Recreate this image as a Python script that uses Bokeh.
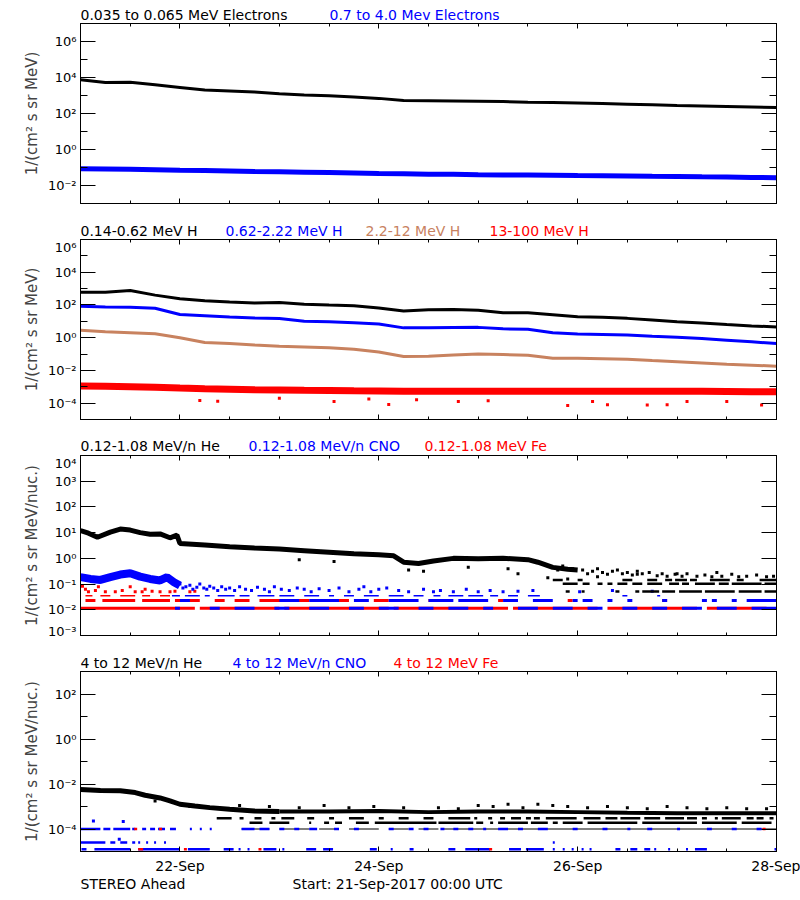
from bokeh.plotting import figure
from bokeh.models import Range1d, LogAxis, LinearAxis, FixedTicker, CustomJSTickFormatter
from bokeh.layouts import column
from bokeh.core.properties import value
from bokeh.embed import file_html
from bokeh.resources import INLINE

FONT = "DejaVu Sans"
BLACK = "#000000"
BLUE = "#0000ff"
RED = "#ff0000"
BROWN = "#c8825f"

# ---------------- x axis (days since 21-Sep-2017 00:00 UTC) ----------------
x_tick_days = [1, 3, 5, 7]
x_tick_labels = ["22-Sep", "24-Sep", "26-Sep", "28-Sep"]
x_minor_days = [0.5, 1.5, 2, 2.5, 3.5, 4, 4.5, 5.5, 6, 6.5]
days_q = [0.0, 0.25, 0.5, 0.75, 1.0, 1.25, 1.5, 1.75, 2.0, 2.25, 2.5, 2.75, 3.0, 3.25,
          3.5, 3.75, 4.0, 4.25, 4.5, 4.75, 5.0, 5.25, 5.5, 5.75, 6.0, 6.25, 6.5, 6.75, 7.0]

# ---------------- panel 1: electrons (log10 values) ----------------
e_low_log = [3.87, 3.72, 3.73, 3.60, 3.45, 3.30, 3.25, 3.20, 3.10, 3.03, 2.98, 2.91, 2.84, 2.72,
             2.71, 2.70, 2.68, 2.66, 2.63, 2.61, 2.58, 2.55, 2.52, 2.49, 2.45, 2.42, 2.39, 2.36, 2.33]
e_high_log = [-1.07, -1.08, -1.10, -1.12, -1.15, -1.17, -1.19, -1.22, -1.24, -1.26, -1.28, -1.30,
              -1.33, -1.35, -1.37, -1.38, -1.40, -1.41, -1.42, -1.43, -1.45, -1.46, -1.47, -1.49,
              -1.50, -1.52, -1.53, -1.55, -1.57]

# ---------------- panel 2: protons (log10 values) ----------------
h1_log = [2.78, 2.78, 2.88, 2.60, 2.38, 2.26, 2.18, 2.12, 2.15, 2.04, 1.99, 1.95, 1.82, 1.63,
          1.70, 1.72, 1.68, 1.52, 1.52, 1.40, 1.28, 1.25, 1.18, 1.08, 0.97, 0.90, 0.80, 0.72, 0.66]
h2_log = [1.92, 1.88, 1.86, 1.80, 1.42, 1.34, 1.26, 1.21, 1.17, 1.00, 0.97, 0.92, 0.84, 0.60,
          0.60, 0.62, 0.63, 0.54, 0.52, 0.30, 0.22, 0.19, 0.16, 0.08, 0.02, -0.05, -0.15, -0.25, -0.36]
h3_log = [0.45, 0.36, 0.30, 0.24, 0.00, -0.30, -0.35, -0.44, -0.52, -0.57, -0.62, -0.70, -0.88,
          -1.15, -1.14, -1.06, -0.99, -1.03, -1.07, -1.25, -1.25, -1.28, -1.32, -1.40, -1.47,
          -1.54, -1.62, -1.68, -1.74]
h4_log = [-2.95, -2.97, -3.00, -3.03, -3.08, -3.12, -3.15, -3.18, -3.20, -3.22, -3.23, -3.25,
          -3.26, -3.27, -3.27, -3.28, -3.27, -3.27, -3.28, -3.28, -3.28, -3.28, -3.27, -3.27,
          -3.28, -3.28, -3.29, -3.30, -3.30]
h4_out_days = [1.2, 1.38, 2.0, 2.55, 2.9, 3.1, 3.38, 3.8, 4.1, 4.9, 5.15, 5.3, 5.7, 5.9,
               6.1, 6.5, 6.85]
h4_out_log = [-3.84, -3.89, -3.7, -3.9, -3.75, -4.09, -3.8, -3.9, -3.85, -4.15, -3.9, -4.1,
              -4.12, -4.1, -3.9, -3.9, -4.12]

# ---------------- panel 3: 0.12-1.08 MeV/n ions (log10 values) ----------------
he_lo_days = [0.0, 0.08, 0.17, 0.3, 0.4, 0.5, 0.6, 0.7, 0.8, 0.9, 0.97, 1.0, 1.25, 1.5, 1.75,
              2.0, 2.25, 2.5, 2.75, 3.0, 3.15, 3.25, 3.4, 3.55, 3.75, 4.0, 4.25, 4.5, 4.6,
              4.75, 4.9, 5.0]
he_lo_log = [1.08, 0.98, 0.82, 1.02, 1.14, 1.10, 1.00, 0.94, 0.95, 0.80, 0.90, 0.58, 0.52,
             0.45, 0.40, 0.36, 0.30, 0.24, 0.18, 0.14, 0.10, -0.15, -0.20, -0.10, 0.00, -0.02,
             0.00, -0.05, -0.15, -0.35, -0.42, -0.45]
he_lo_pts_days = [2.2, 2.55, 3.3, 3.45, 3.9, 4.3, 4.4, 4.8, 4.85, 4.95, 5.05, 5.1, 5.15, 5.2,
                  5.25, 5.3, 5.35, 5.4, 5.45, 5.5, 5.55, 5.6, 5.65, 5.72, 5.8, 5.85, 5.9, 5.98,
                  6.05, 6.1, 6.2, 6.28, 6.35, 6.45, 6.55, 6.62, 6.7, 6.8, 6.9, 6.97, 4.7, 4.9,
                  5.2, 5.6, 6.0, 6.4]
he_lo_pts_log = [-0.05, -0.12, -0.45, -0.5, -0.35, -0.4, -0.6, -0.45, -0.3, -0.4, -0.45, -0.6,
                 -0.5, -0.4, -0.55, -0.62, -0.5, -0.45, -0.6, -0.55, -0.65, -0.5, -0.6, -0.55,
                 -0.68, -0.6, -0.7, -0.62, -0.7, -0.6, -0.7, -0.65, -0.72, -0.7, -0.62, -0.72,
                 -0.7, -0.65, -0.72, -0.7, -0.75, -0.8, -0.72, -0.62, -0.6, -0.55]
he_lo_lvl_a = -0.84
he_lo_runs_a = [(4.75, 4.85), (5.0, 5.05), (5.45, 5.55), (5.7, 5.8), (5.88, 5.95), (5.98, 6.1),
                (6.13, 6.2), (6.33, 6.53), (6.6, 6.67), (6.83, 7.0)]
he_lo_lvl_b = -0.99
he_lo_runs_b = [(4.85, 5.0), (5.05, 5.12), (5.2, 5.25), (5.3, 5.35), (5.4, 5.5), (5.55, 5.65),
                (5.7, 5.85), (5.92, 6.02), (6.05, 6.12), (6.18, 6.38), (6.42, 6.52), (6.55, 6.85),
                (6.88, 7.0)]
he_lo_lvl_c = -1.29
he_lo_runs_c = [(4.88, 4.92), (5.04, 5.07), (5.38, 5.42), (5.58, 5.62), (5.65, 5.82),
                (5.85, 5.98), (6.02, 6.25), (6.28, 6.58), (6.62, 6.85), (6.88, 7.0)]

cno_lo_days = [0.0, 0.1, 0.2, 0.3, 0.4, 0.5, 0.6, 0.7, 0.8, 0.87, 0.94, 1.0]
cno_lo_log = [-0.73, -0.80, -0.84, -0.73, -0.63, -0.58, -0.71, -0.80, -0.86, -0.73, -0.93, -1.06]
cno_lo_pts_days = [1.0, 1.03, 1.06, 1.1, 1.13, 1.17, 1.2, 1.24, 1.27, 1.3, 1.34, 1.38, 1.42,
                   1.46, 1.5, 1.55, 1.6, 1.66, 1.72, 1.78, 1.85, 1.9, 1.95, 2.02, 2.1, 2.18,
                   2.25, 2.32, 2.4, 2.5, 2.6, 2.7, 2.8, 2.85, 2.92, 3.0, 3.08, 3.2, 3.3, 3.45,
                   3.55, 3.62, 3.75, 3.88, 4.0, 4.12, 4.25, 4.4, 4.55, 5.02, 5.35, 5.75]
cno_lo_pts_log = [-1.0, -1.15, -1.1, -1.05, -1.2, -1.12, -1.0, -1.15, -1.2, -1.08, -1.15, -1.25,
                  -1.1, -1.2, -1.15, -1.25, -1.1, -1.2, -1.25, -1.12, -1.2, -1.3, -1.1, -1.2,
                  -1.25, -1.15, -1.2, -1.3, -1.18, -1.25, -1.15, -1.3, -1.2, -1.1, -1.3, -1.2,
                  -1.15, -1.25, -1.3, -1.2, -1.3, -1.25, -1.3, -1.2, -1.3, -1.25, -1.3, -1.28,
                  -1.25, -1.3, -1.25, -1.28]
lvl1 = -1.94
lvl2 = -1.64
lvl3 = -1.45
fe_lo_runs_1 = [(0.0, 1.15), (1.2, 2.0), (2.05, 3.1), (3.15, 4.3), (4.35, 5.2), (5.3, 6.2),
                (6.3, 6.9)]
cno_lo_runs_1 = [(0.95, 1.0), (1.3, 1.4), (1.55, 1.75), (1.95, 2.1), (2.3, 2.5), (2.7, 2.85),
                 (3.0, 3.2), (3.4, 3.55), (3.7, 3.9), (4.05, 4.15), (4.4, 4.6), (4.75, 4.95),
                 (5.1, 5.25), (5.45, 5.6), (5.75, 5.9), (6.05, 6.25), (6.4, 6.6), (6.75, 7.0)]
fe_lo_runs_2 = [(0.05, 0.15), (0.22, 0.55), (0.62, 0.9), (0.95, 1.2), (1.35, 1.45), (1.55, 1.7),
                (1.8, 2.3), (2.35, 2.5), (2.6, 2.7), (2.95, 3.1), (3.3, 3.35), (3.5, 3.6),
                (4.2, 4.25), (4.9, 4.95), (5.85, 5.9)]
cno_lo_runs_2 = [(1.0, 1.1), (2.0, 2.2), (2.3, 2.6), (2.75, 2.9), (3.1, 3.4), (3.5, 3.75),
                 (3.8, 4.1), (4.25, 4.4), (4.55, 4.75), (4.95, 5.0), (5.05, 5.15), (5.3, 5.35),
                 (5.5, 5.55), (5.85, 5.9), (6.25, 6.3), (6.35, 6.4), (6.55, 6.6), (6.7, 7.0)]
cno_lo_runs_3 = [(0.92, 1.0), (1.05, 1.2), (1.25, 1.3), (1.38, 1.55), (1.6, 1.7), (1.78, 1.95),
                 (2.0, 2.15), (2.25, 2.4), (2.5, 2.55), (2.65, 2.75), (2.85, 3.0), (3.1, 3.25),
                 (3.35, 3.45), (3.55, 3.62), (3.7, 3.85), (3.9, 4.05), (4.12, 4.2), (4.3, 4.4),
                 (4.5, 4.62), (5.45, 5.5), (5.8, 5.83)]
fe_lo_runs_3 = [(0.05, 0.12), (0.2, 0.3), (0.4, 0.55), (0.62, 0.7), (0.8, 0.9)]
fe_lo_pts_days = [0.02, 0.05, 0.08, 0.15, 0.18, 0.25, 0.35, 0.42, 0.5, 0.55, 0.62, 0.65, 0.72,
                  0.8, 0.9, 0.95, 1.1, 1.15]
fe_lo_pts_log = [-1.08, -1.2, -1.3, -1.25, -1.1, -1.3, -1.3, -1.25, -1.1, -1.3, -1.3, -1.2,
                 -1.28, -1.3, -1.3, -1.28, -1.3, -1.28]

# ---------------- panel 4: 4-12 MeV/n ions (log10 values) ----------------
he_hi_days = [0.0, 0.2, 0.4, 0.55, 0.65, 0.8, 0.9, 1.0, 1.15, 1.3, 1.5, 1.75, 2.0]
he_hi_log = [-2.24, -2.29, -2.30, -2.38, -2.50, -2.62, -2.75, -2.90, -2.98, -3.05, -3.12,
             -3.20, -3.22]
he_hi_late_days = [2.0, 2.5, 3.0, 3.5, 4.0, 4.5, 5.0, 5.5, 6.0, 6.5, 7.0]
he_hi_late_log = [-3.22, -3.22, -3.20, -3.25, -3.22, -3.22, -3.25, -3.28, -3.30, -3.30, -3.30]
he_hi_pts_days = [0.75, 1.1, 1.6, 1.9, 2.2, 2.45, 2.7, 2.95, 3.25, 3.6, 3.8, 4.0, 4.15, 4.3,
                  4.45, 4.6, 4.75, 4.9, 5.1, 5.3, 5.5, 5.7, 5.9, 6.1, 6.3, 6.5, 6.7, 6.9]
he_hi_pts_log = [-2.75, -3.0, -2.95, -3.0, -3.05, -2.95, -3.05, -3.0, -3.05, -3.05, -3.1,
                 -2.95, -3.0, -2.9, -3.05, -2.9, -2.95, -3.0, -3.05, -3.0, -3.05, -3.1, -3.0,
                 -3.05, -3.1, -3.05, -3.1, -3.1]
he_hi_lvl_a = -3.52
he_hi_runs_a = [(1.37, 1.52), (1.6, 1.64), (1.75, 1.82), (1.92, 1.96), (2.02, 2.15), (2.28, 2.35),
                (2.5, 2.55), (2.7, 2.85), (3.0, 3.05), (3.2, 3.3), (3.45, 3.55), (3.7, 3.92),
                (3.96, 3.99), (4.1, 4.14), (4.22, 4.27), (4.33, 4.43), (4.48, 4.53), (4.56, 4.62),
                (4.68, 4.99), (5.06, 5.23), (5.28, 5.4), (5.43, 5.63), (5.67, 5.83), (5.88, 6.07),
                (6.1, 6.2), (6.25, 6.3), (6.38, 6.41), (6.45, 6.64), (6.7, 6.77), (6.8, 6.87),
                (6.93, 6.97)]
he_hi_lvl_b = -3.72
he_hi_runs_b = [(1.7, 1.83), (1.9, 2.1), (2.3, 2.32), (2.45, 2.5), (2.56, 2.63), (2.77, 2.9),
                (2.96, 3.58), (3.6, 3.95), (3.98, 4.05), (4.12, 4.15), (4.2, 4.5), (4.53, 4.7),
                (4.75, 4.8), (4.85, 5.05), (5.1, 5.6), (5.65, 6.2), (6.25, 6.6), (6.65, 6.95)]
hi_lvl1 = -4.0
he_hi_runs_1 = [(1.62, 1.9), (2.0, 2.3), (2.4, 2.6), (2.7, 3.0), (3.1, 3.3), (3.4, 3.6),
                (3.65, 7.0)]
cno_hi_runs_1 = [(0.0, 0.2), (0.23, 0.3), (0.33, 0.5), (0.52, 0.55), (0.62, 0.66), (0.7, 0.75),
                 (0.78, 0.85), (0.9, 0.96), (1.1, 1.12), (1.2, 1.22), (1.3, 1.32), (1.62, 1.75),
                 (1.8, 1.9), (2.0, 2.05), (2.15, 2.2), (2.3, 2.38), (2.55, 2.6), (2.75, 2.8),
                 (3.1, 3.15), (3.3, 3.35), (3.45, 3.5), (3.62, 3.66), (3.75, 3.8), (3.9, 3.95),
                 (4.05, 4.08), (4.2, 4.3), (4.4, 4.45), (4.6, 4.7), (4.95, 5.0), (5.25, 5.3),
                 (5.5, 5.53), (5.7, 5.75), (6.0, 6.03), (6.3, 6.35), (6.55, 6.6), (6.8, 6.85)]
hi_lvl2 = -4.6
cno_hi_runs_2 = [(0.0, 0.25), (0.3, 0.35), (0.4, 0.47), (0.52, 0.55), (0.58, 0.6), (0.66, 0.68),
                 (0.74, 0.76), (0.84, 0.86), (4.75, 4.77)]
hi_lvl3 = -4.9
cno_hi_runs_3 = [(0.01, 0.06), (0.14, 0.5), (0.58, 1.0), (1.08, 1.3), (1.44, 1.54), (1.59, 1.61),
                 (1.68, 1.7), (1.84, 1.97), (2.03, 2.05), (2.27, 2.37), (2.44, 2.54), (2.91, 2.98),
                 (3.12, 3.14), (3.31, 3.35), (3.7, 3.77), (3.87, 4.12), (4.31, 4.43), (4.48, 4.66),
                 (4.75, 4.77), (4.85, 4.87), (4.94, 4.96), (5.04, 5.06), (5.12, 5.14), (5.38, 5.43),
                 (5.53, 5.6), (5.67, 5.73), (5.77, 5.79), (5.91, 5.93), (6.09, 6.11), (6.18, 6.3),
                 (6.98, 7.0)]
fe_hi_runs_1 = [(0.54, 0.57), (0.79, 0.82), (6.86, 6.89)]
fe_hi_runs_3 = [(0.58, 0.63), (1.04, 1.07), (1.79, 1.82), (4.11, 4.14)]
cno_hi_pts_days = [0.13, 0.43, 0.39]
cno_hi_pts_log = [-3.64, -3.67, -4.45]

# ---------------- texts (x = left edge in px from the page's left) ----------------
ylab_a = "1/(cm\u00b2 s sr MeV)"
ylab_b = "1/(cm\u00b2 s sr MeV/nuc.)"
titles1_text = ["0.035 to 0.065 MeV Electrons", "0.7 to 4.0 Mev Electrons"]
titles1_x = [80, 329]
titles1_color = [BLACK, BLUE]
titles2_text = ["0.14-0.62 MeV H", "0.62-2.22 MeV H", "2.2-12 MeV H", "13-100 MeV H"]
titles2_x = [80, 225, 365, 489]
titles2_color = [BLACK, BLUE, BROWN, RED]
titles3_text = ["0.12-1.08 MeV/n He", "0.12-1.08 MeV/n CNO", "0.12-1.08 MeV Fe"]
titles3_x = [80, 248, 424]
titles3_color = [BLACK, BLUE, RED]
titles4_text = ["4 to 12 MeV/n He", "4 to 12 MeV/n CNO", "4 to 12 MeV Fe"]
titles4_x = [80, 232, 393]
titles4_color = [BLACK, BLUE, RED]
footer_text = ["STEREO Ahead", "Start: 21-Sep-2017 00:00 UTC"]
footer_x = [80, 292]
footer_color = [BLACK, BLACK]

LOG_CODE = """
const e = Math.round(Math.log10(tick));
const sup = {"-": "\u207b", "0": "\u2070", "1": "\u00b9", "2": "\u00b2", "3": "\u00b3",
             "4": "\u2074", "5": "\u2075", "6": "\u2076", "7": "\u2077", "8": "\u2078", "9": "\u2079"};
let s = "";
for (const c of String(e)) { s += sup[c]; }
return "10" + s;
"""

FRAME_W = 696
LEFT_B = 80
RIGHT_B = 24


def pw(vals):
    return [10.0 ** v for v in vals]


def style(ax):
    ax.axis_line_color = "black"
    ax.major_tick_line_color = "black"
    ax.minor_tick_line_color = "black"
    ax.major_tick_out = 0
    ax.minor_tick_out = 0
    ax.major_label_text_font = FONT
    ax.major_label_text_font_size = "13px"
    ax.major_label_text_color = "black"


def text_strip(h, texts, xs, colors, mid):
    s = figure(frame_width=FRAME_W, frame_height=h, x_range=Range1d(0, FRAME_W),
               y_range=Range1d(0, h), x_axis_location=None, y_axis_location=None,
               output_backend="svg", toolbar_location=None,
               min_border_left=LEFT_B, min_border_right=RIGHT_B,
               min_border_top=0, min_border_bottom=0)
    s.outline_line_color = None
    s.background_fill_color = "white"
    s.border_fill_color = "white"
    s.grid.visible = False
    s.text(x=[x - LEFT_B for x in xs], y=[mid] * len(xs), text=texts, text_color=colors,
           text_font=value(FONT), text_font_size=value("14px"),
           text_baseline=value("middle"), text_align=value("left"))
    return s


def make_panel(ylo, yhi, majors, minors, ylabel, show_x):
    p = figure(frame_width=FRAME_W, frame_height=180, x_range=Range1d(0, 7),
               y_range=Range1d(10.0 ** ylo, 10.0 ** yhi), y_axis_type="log",
               x_axis_location=None, y_axis_location=None,
               output_backend="svg", toolbar_location=None,
               min_border_left=LEFT_B, min_border_right=RIGHT_B, min_border_top=0,
               min_border_bottom=24 if show_x else 3)
    p.background_fill_color = "white"
    p.border_fill_color = "white"
    p.outline_line_color = "black"
    p.outline_line_alpha = 1.0
    p.grid.visible = False
    left = LogAxis(ticker=FixedTicker(ticks=[10.0 ** m for m in majors],
                                      minor_ticks=[10.0 ** m for m in minors]),
                   formatter=CustomJSTickFormatter(code=LOG_CODE))
    style(left)
    left.major_tick_in = 15
    left.minor_tick_in = 7
    left.major_label_standoff = 4
    left.axis_label = ylabel
    left.axis_label_text_font = FONT
    left.axis_label_text_font_size = "15px"
    left.axis_label_text_font_style = "normal"
    left.axis_label_standoff = 4
    p.add_layout(left, "left")
    right = LogAxis(ticker=FixedTicker(ticks=[10.0 ** m for m in majors],
                                       minor_ticks=[10.0 ** m for m in minors]),
                    formatter=CustomJSTickFormatter(code="return '';"))
    style(right)
    right.major_tick_in = 15
    right.minor_tick_in = 7
    right.major_label_text_font_size = "0px"
    right.major_label_standoff = 0
    p.add_layout(right, "right")
    for loc in ("below", "above"):
        xt = FixedTicker(ticks=x_tick_days, minor_ticks=x_minor_days)
        if loc == "below" and show_x:
            fmt = CustomJSTickFormatter(args=dict(days=x_tick_days, names=x_tick_labels),
                                        code="const i = days.indexOf(tick); return i >= 0 ? names[i] : '';")
        else:
            fmt = CustomJSTickFormatter(code="return '';")
        ax = LinearAxis(ticker=xt, formatter=fmt)
        style(ax)
        ax.major_tick_in = 5
        ax.minor_tick_in = 3
        if loc == "below" and show_x:
            ax.major_label_standoff = 6
            ax.major_label_text_font_size = "14px"
        else:
            ax.major_label_text_font_size = "0px"
            ax.major_label_standoff = 0
        p.add_layout(ax, loc)
    return p


def add_runs(p, run_list, level, color, width):
    x0 = [a for a, b in run_list]
    x1 = [b for a, b in run_list]
    yy = [10.0 ** level] * len(run_list)
    p.segment(x0=x0, y0=yy, x1=x1, y1=yy, line_color=color, line_width=width)


def add_pts(p, xs, logs, color, size=3):
    p.scatter(xs, pw(logs), marker="square", size=size, fill_color=color, line_color=None)


# ---------- panel 1 ----------
t1 = text_strip(23, titles1_text, titles1_x, titles1_color, 8.5)
p1 = make_panel(-3, 7, [-2, 0, 2, 4, 6], [-3, -1, 1, 3, 5, 7], ylab_a, False)
p1.line(days_q, pw(e_low_log), line_color=BLACK, line_width=3)
p1.line(days_q, pw(e_high_log), line_color=BLUE, line_width=5)

# ---------- panel 2 ----------
t2 = text_strip(33, titles2_text, titles2_x, titles2_color, 8.8)
p2 = make_panel(-5, 6, [-4, -2, 0, 2, 4, 6], [-5, -3, -1, 1, 3, 5], ylab_a, False)
p2.line(days_q, pw(h4_log), line_color=RED, line_width=7)
add_pts(p2, h4_out_days, h4_out_log, RED)
p2.line(days_q, pw(h3_log), line_color=BROWN, line_width=3)
p2.line(days_q, pw(h2_log), line_color=BLUE, line_width=3)
p2.line(days_q, pw(h1_log), line_color=BLACK, line_width=3)

# ---------- panel 3 ----------
t3 = text_strip(33, titles3_text, titles3_x, titles3_color, 9.8)
p3 = make_panel(-3, 4, [-3, -2, -1, 0, 1, 2, 3, 4], [], ylab_b, False)
add_runs(p3, fe_lo_runs_1, lvl1, RED, 3)
add_runs(p3, cno_lo_runs_1, lvl1, BLUE, 3)
add_runs(p3, fe_lo_runs_2, lvl2, RED, 3)
add_runs(p3, cno_lo_runs_2, lvl2, BLUE, 3)
add_runs(p3, fe_lo_runs_3, lvl3, RED, 1.5)
add_runs(p3, cno_lo_runs_3, lvl3, BLUE, 1.5)
add_pts(p3, fe_lo_pts_days, fe_lo_pts_log, RED)
p3.line(cno_lo_days, pw(cno_lo_log), line_color=BLUE, line_width=8)
add_pts(p3, cno_lo_pts_days, cno_lo_pts_log, BLUE)
add_runs(p3, he_lo_runs_a, he_lo_lvl_a, BLACK, 2.5)
add_runs(p3, he_lo_runs_b, he_lo_lvl_b, BLACK, 2.5)
add_runs(p3, he_lo_runs_c, he_lo_lvl_c, BLACK, 2.5)
add_pts(p3, he_lo_pts_days, he_lo_pts_log, BLACK)
p3.line(he_lo_days, pw(he_lo_log), line_color=BLACK, line_width=5)

# ---------- panel 4 ----------
t4 = text_strip(33, titles4_text, titles4_x, titles4_color, 8.6)
p4 = make_panel(-5, 3, [-4, -2, 0, 2], [-5, -3, -1, 1, 3], ylab_b, True)
add_runs(p4, he_hi_runs_1, hi_lvl1, BLACK, 1.2)
add_runs(p4, cno_hi_runs_1, hi_lvl1, BLUE, 2.5)
add_runs(p4, cno_hi_runs_2, hi_lvl2, BLUE, 2.5)
add_runs(p4, cno_hi_runs_3, hi_lvl3, BLUE, 2.5)
add_runs(p4, fe_hi_runs_1, hi_lvl1, RED, 2.5)
add_runs(p4, fe_hi_runs_3, hi_lvl3, RED, 2.5)
add_pts(p4, cno_hi_pts_days, cno_hi_pts_log, BLUE)
add_runs(p4, he_hi_runs_a, he_hi_lvl_a, BLACK, 2.5)
add_runs(p4, he_hi_runs_b, he_hi_lvl_b, BLACK, 2.5)
add_pts(p4, he_hi_pts_days, he_hi_pts_log, BLACK)
p4.line(he_hi_days, pw(he_hi_log), line_color=BLACK, line_width=5)
p4.line(he_hi_late_days, pw(he_hi_late_log), line_color=BLACK, line_width=4)
f4 = text_strip(19, footer_text, footer_x, footer_color, 11.3)

layout = column(t1, p1, t2, p2, t3, p3, t4, p4, f4, spacing=0)
open("out.html", "w").write(file_html(layout, INLINE))
